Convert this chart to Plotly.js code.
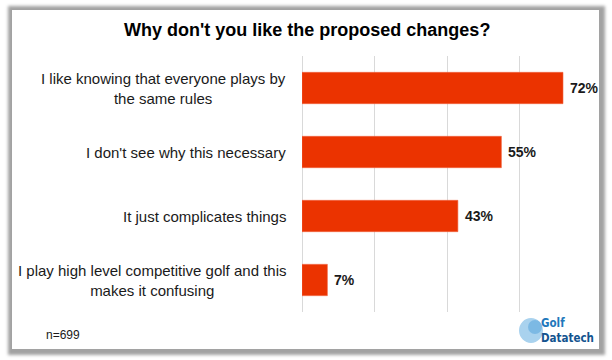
<!DOCTYPE html>
<html>
<head>
<meta charset="utf-8">
<script src="https://cdn.plot.ly/plotly-3.0.1.min.js"></script>
<style>
  html, body { margin: 0; padding: 0; background: #ffffff; }
  #card { position: absolute; left: 12px; top: 10px; width: 587px; height: 339px;
          background: #ffffff; box-shadow: 1px 1px 3px 5px #a2a2a2; }
  #chart { position: absolute; left: 0; top: 0; width: 612px; height: 360px; }
</style>
</head>
<body>
<div id="card"></div>
<div id="chart"></div>
<script>
// ---- data ----
const categories = [
  "I like knowing that everyone plays by<br>the same rules",
  "I don't see why this necessary",
  "It just complicates things",
  "I play high level competitive golf and this<br>makes it confusing"
];
const values = [72, 55, 43, 7];
const valueLabels = ["72%", "55%", "43%", "7%"];
const titleText = "Why don't you like the proposed changes?";
const sampleNote = "n=699";
const logoLines = ["Golf", "Datatech"];

// ---- layout geometry ----
const W = 612, H = 360;
const M = { l: 302, r: 20, t: 56, b: 48 };
const PW = W - M.l - M.r, PH = H - M.t - M.b;
const px2x = p => (p - M.l) / PW;
const px2y = p => (H - M.b - p) / PH;

const barColor = "#EB3300";
const font = "Arial, 'Liberation Sans', sans-serif";

const trace = {
  type: "bar",
  orientation: "h",
  x: values,
  y: categories,
  width: 0.49,
  marker: { color: barColor, line: { color: "#F2653F", width: 0.6 } },
  hoverinfo: "skip"
};

const annotations = [];
categories.forEach((c, i) => {
  annotations.push({
    xref: "paper", yref: "y", x: 0, y: c, xanchor: "right", yanchor: "middle",
    xshift: -14, align: "center", showarrow: false, text: c,
    font: { family: font, size: 15, color: "#1a1a1a" }
  });
  annotations.push({
    xref: "x", yref: "y", x: values[i], y: c, xanchor: "left", yanchor: "middle",
    xshift: 5, showarrow: false, text: valueLabels[i],
    font: { family: font, size: 14, color: "#1a1a1a", weight: 700 }
  });
});
annotations.push({
  xref: "paper", yref: "paper", x: px2x(44), y: px2y(335), xanchor: "left", yanchor: "middle",
  showarrow: false, text: sampleNote, font: { family: font, size: 12, color: "#1a1a1a" }
});
annotations.push({
  xref: "paper", yref: "paper", x: px2x(539), y: px2y(330.5), xanchor: "left", yanchor: "middle",
  showarrow: false, align: "left",
  text: "<span style='color:#2277bb'>" + logoLines[0] + "</span><br>" + logoLines[1],
  font: { family: "'DejaVu Sans Condensed', 'DejaVu Sans', sans-serif", size: 11.5, color: "#14548f", weight: 700 }
});

const shapes = [
  { type: "circle", xref: "paper", yref: "paper", x0: px2x(519), x1: px2x(543), y0: px2y(318), y1: px2y(343),
    fillcolor: "#a9d2ee", line: { width: 0 }, layer: "above" },
  { type: "circle", xref: "paper", yref: "paper", x0: px2x(528), x1: px2x(542), y0: px2y(320), y1: px2y(334),
    fillcolor: "#6aaedf", line: { width: 0 }, opacity: 0.7, layer: "above" }
];

const layout = {
  width: W, height: H,
  margin: M,
  paper_bgcolor: "rgba(0,0,0,0)",
  plot_bgcolor: "rgba(0,0,0,0)",
  showlegend: false,
  bargap: 0.5,
  title: {
    text: titleText, x: 0.502, xanchor: "center", y: 1 - 30 / H, yanchor: "middle",
    font: { family: font, size: 18, color: "#000000", weight: 700 }
  },
  xaxis: {
    range: [0, 80], dtick: 20, showticklabels: false, ticks: "",
    showgrid: true, gridcolor: "#d9d9d9", gridwidth: 1,
    zeroline: true, zerolinecolor: "#d9d9d9", zerolinewidth: 1, fixedrange: true
  },
  yaxis: {
    type: "category", autorange: "reversed", showticklabels: false, ticks: "",
    showgrid: false, zeroline: false, fixedrange: true
  },
  annotations: annotations,
  shapes: shapes
};

Plotly.newPlot("chart", [trace], layout, { displayModeBar: false, staticPlot: true });
</script>
</body>
</html>
